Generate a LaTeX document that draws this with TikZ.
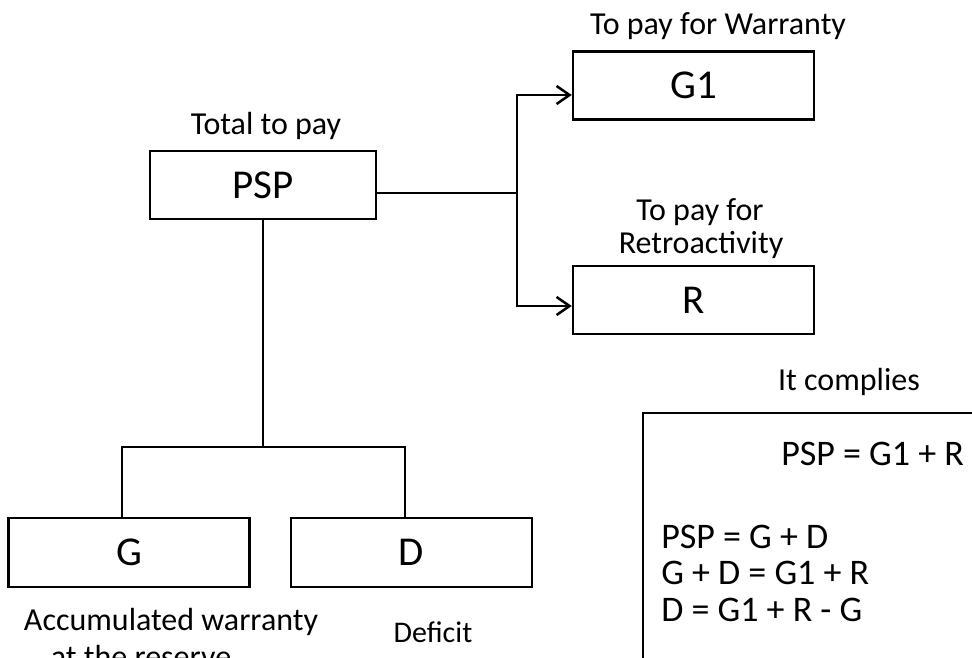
\documentclass[tikz,border=0pt]{standalone}
\usepackage{fontspec}
\setmainfont{Carlito}
\usetikzlibrary{arrows.meta}

\begin{document}
\begin{tikzpicture}[x=1pt,y=-1pt,line width=2.5pt,
  box/.style={draw,inner sep=0pt,minimum width=241pt,minimum height=68pt,font=\fontsize{41}{49}\selectfont},
  lbl/.style={inner sep=0pt,anchor=base,font=\fontsize{32}{34}\selectfont},
  eqn/.style={inner sep=0pt,anchor=base west,font=\fontsize{36}{40}\selectfont},
  >={Straight Barb[length=13pt,width=18pt]}]
\useasboundingbox (0,0) rectangle (972,658);
\clip (0,0) rectangle (972,658);
% boxes
\node[box,minimum width=226pt] (psp) at (263,185) {PSP};
\node[box] (gone) at (693.5,85.5) {G1};
\node[box] (r) at (693.5,300) {R};
\node[box,minimum height=69pt] (g) at (129,552.5) {G};
\node[box,minimum height=69pt] (d) at (411.5,552.5) {D};
% connectors
\coordinate (split) at (517,193);
\coordinate (fork) at (263,447);
\draw (psp.east |- split) -- (split);
\draw[->] (split) |- ([yshift=-9.5pt]gone.west);
\draw[->] (split) |- ([yshift=-6pt]r.west);
\draw (psp.south) -- (fork);
\draw ([xshift=-7pt]g.north) |- (fork) -| ([xshift=-6.5pt]d.north);
% labels
\node[lbl] (ltotal) at (266,135) {Total to pay};
\node[lbl] (lwarranty) at (718,35) {To pay for Warranty};
\node[lbl] (lretro1) at (700,220) {To pay for};
\node[lbl] (lretro2) at (701,253) {Retroactivity};
\node[lbl] (lacc1) at (171,630) {Accumulated warranty};
\node[lbl] (lacc2) at (141,667) {at the reserve};
\node[lbl,font=\fontsize{30}{32}\selectfont] (ldef) at (433,642) {Deficit};
\node[lbl] (lcomply) at (849,390) {It complies};
% equations
\draw (643,413) rectangle (1000,700);
\node[eqn] (eqa) at (780,465) {PSP = G1 + R};
\node[eqn] (eqb) at (660,548) {PSP = G + D};
\node[eqn] (eqc) at (660,584) {G + D = G1 + R};
\node[eqn] (eqd) at (660,621) {D = G1 + R - G};
\end{tikzpicture}
\end{document}
